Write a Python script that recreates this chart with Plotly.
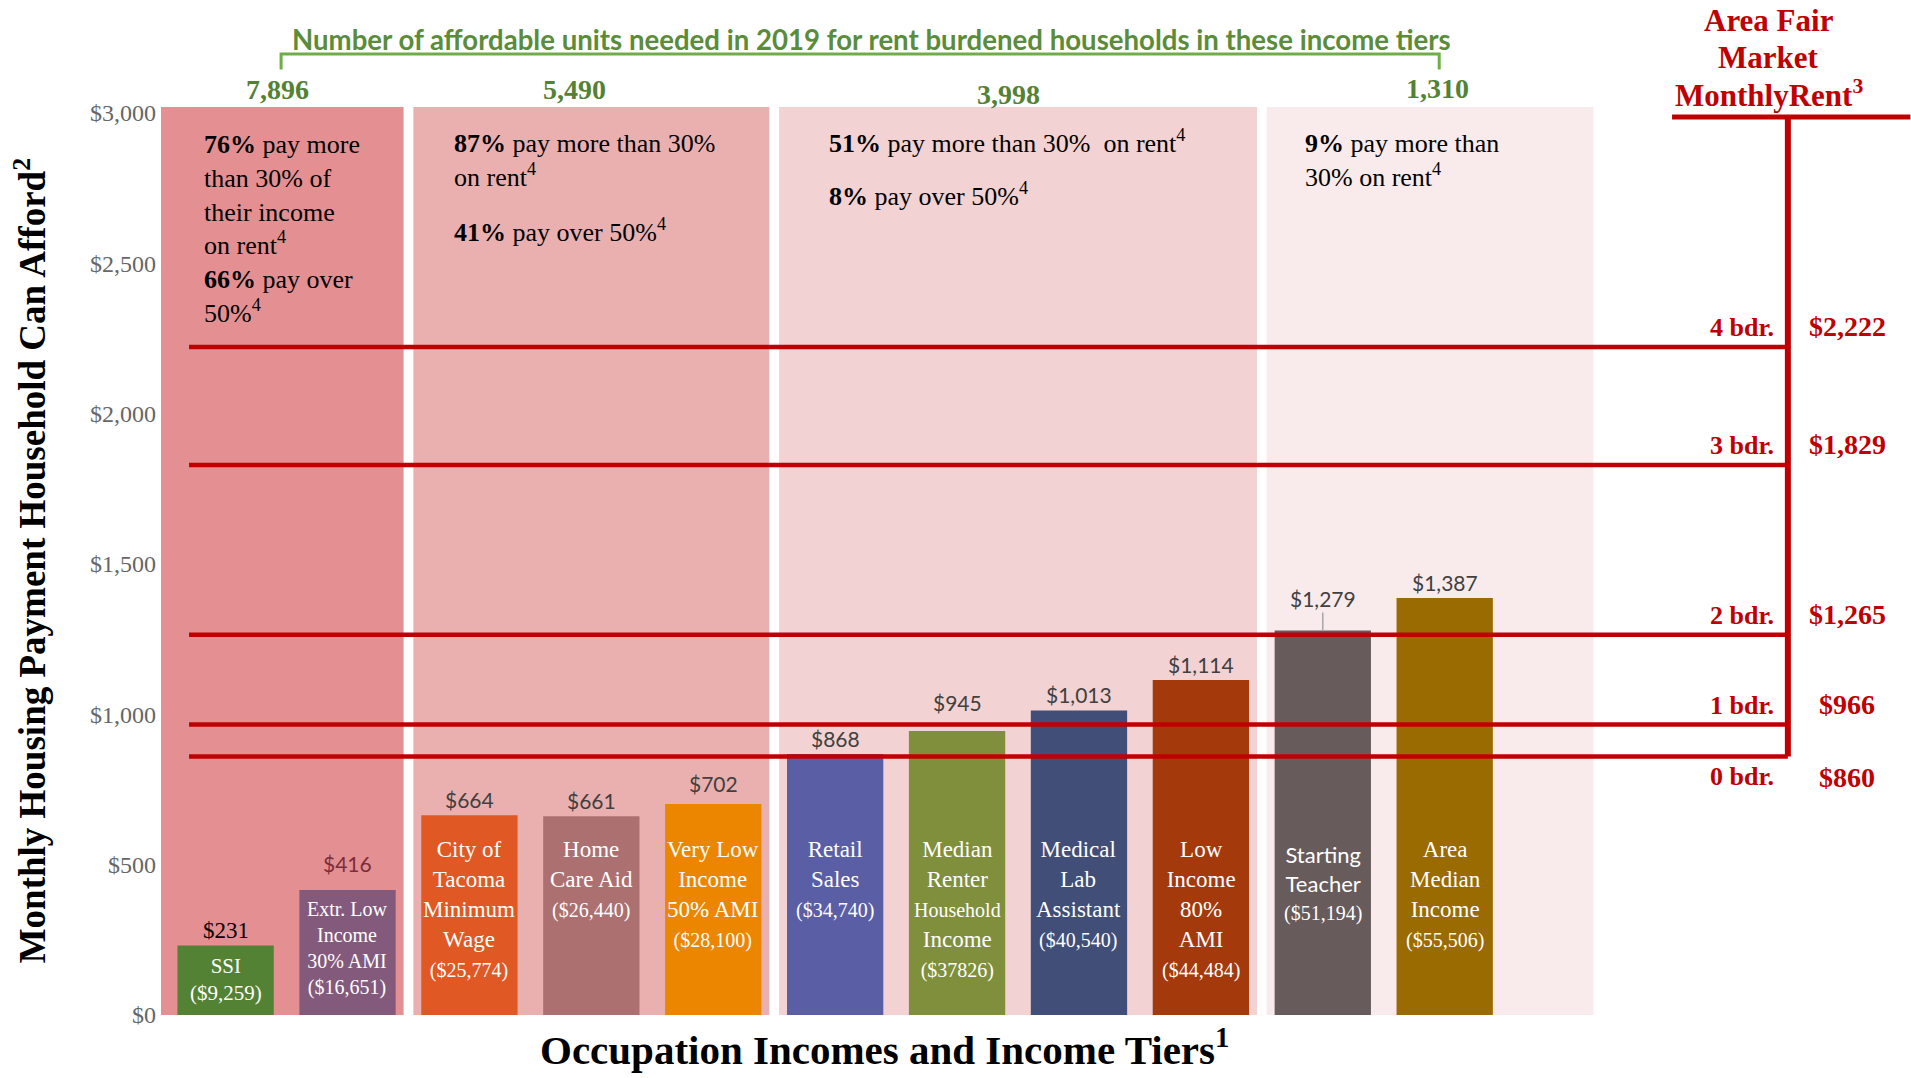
import plotly.graph_objects as go

# ---------------- data ----------------
bar_names = ["SSI", "Extr. Low<br>Income<br>30% AMI", "City of<br>Tacoma<br>Minimum<br>Wage",
             "Home<br>Care Aid", "Very Low<br>Income<br>50% AMI", "Retail<br>Sales",
             "Median<br>Renter<br><span style='font-size:20px'>Household</span><br>Income",
             "Medical<br>Lab<br>Assistant", "Low<br>Income<br>80%<br>AMI",
             "Starting<br>Teacher", "Area<br>Median<br>Income"]
incomes = ["($9,259)", "($16,651)", "($25,774)", "($26,440)", "($28,100)", "($34,740)",
           "($37826)", "($40,540)", "($44,484)", "($51,194)", "($55,506)"]
afford = [231, 416, 664, 661, 702, 868, 945, 1013, 1114, 1279, 1387]
bar_colors = ["#548235", "#845A7C", "#E05824", "#AC7070", "#EC8600", "#5A5EA4",
              "#7F8F3C", "#414E78", "#A4390C", "#675B5B", "#9A6B00"]

tier_sizes = [2, 3, 4, 2]
tier_units = ["7,896", "5,490", "3,998", "1,310"]
tier_colors = ["#E49093", "#EAB0B0", "#F2D2D2", "#F9EBEB"]

fmr_rooms = ["0 bdr.", "1 bdr.", "2 bdr.", "3 bdr.", "4 bdr."]
fmr_values = [860, 966, 1265, 1829, 2222]

y_ticks = [0, 500, 1000, 1500, 2000, 2500, 3000]

# ---------------- styling constants ----------------
RED = "#C00000"
GREEN = "#548235"
GREEN_LINE = "#70AD47"
SERIF = "Liberation Serif, Times New Roman, serif"
SANS = "Lato, Carlito, Calibri, sans-serif"

x_idx = list(range(len(afford)))

fig = go.Figure()
fig.add_trace(go.Bar(x=x_idx, y=afford, width=0.79, marker=dict(color=bar_colors, line=dict(width=0)),
                     hoverinfo="skip", showlegend=False))

shapes = []
annotations = []

# background tier panels
edges = [-0.53]
c = 0
for s in tier_sizes:
    c += s
    edges.append(c - 0.5)
gap = 0.04
panel_top = 3020
for k, s in enumerate(tier_sizes):
    x0 = edges[k] + (gap if k > 0 else 0)
    x1 = edges[k + 1] - gap if k < len(tier_sizes) - 1 else edges[k + 1] + 0.72
    shapes.append(dict(type="rect", xref="x", yref="y", x0=x0, x1=x1, y0=0, y1=panel_top,
                       fillcolor=tier_colors[k], line=dict(width=0), layer="below"))

# tier unit numbers
unit_x = [0.425, 2.865, 6.425, 9.945]
unit_y = [3077, 3077, 3062, 3080]
for k, t in enumerate(tier_units):
    annotations.append(dict(x=unit_x[k], y=unit_y[k], xref="x", yref="y", text="<b>%s</b>" % t,
                            showarrow=False, font=dict(family=SERIF, size=28, color=GREEN)))

# header + bracket
annotations.append(dict(x=5.3, y=3243, xref="x", yref="y",
                        text="<b>Number of affordable units needed in 2019 for rent burdened households in these income tiers</b>",
                        showarrow=False, font=dict(family=SANS, size=27.6, color="#5A8C3A")))
shapes.append(dict(type="path", xref="x", yref="y",
                   path="M 0.455,3145 L 0.455,3196 L 9.955,3196 L 9.955,3145",
                   line=dict(color=GREEN_LINE, width=3)))

# tier texts
tier_texts = [
    (-0.195, 2950, "<b>76%</b> pay more<br>than 30% of<br>their income<br>on rent<sup>4</sup><br><b>66%</b> pay over<br>50%<sup>4</sup>"),
    (1.855, 2955, "<b>87%</b> pay more than 30%<br>on rent<sup>4</sup>"),
    (1.855, 2672, "<b>41%</b> pay over 50%<sup>4</sup>"),
    (4.935, 2968, "<b>51%</b> pay more than 30%  on rent<sup>4</sup>"),
    (4.935, 2790, "<b>8%</b> pay over 50%<sup>4</sup>"),
    (8.835, 2955, "<b>9%</b> pay more than<br>30% on rent<sup>4</sup>"),
]
for tx, ty, tt in tier_texts:
    annotations.append(dict(x=tx, y=ty, xref="x", yref="y", text=tt, showarrow=False,
                            xanchor="left", yanchor="top", align="left",
                            font=dict(family=SERIF, size=26, color="black")))

# bar value labels (raised a little where the original nudged them)
label_lift = {1: 11, 4: 5, 6: 13}
for i, v in enumerate(afford):
    lab = "${:,}".format(v)
    lift = 1 + label_lift.get(i, 0)
    if i == 0:
        annotations.append(dict(x=i, y=v, xref="x", yref="y", text=lab, showarrow=False,
                                yanchor="bottom", yshift=lift, font=dict(family=SERIF, size=23, color="black")))
    elif v == 1279:
        annotations.append(dict(x=i, y=v, xref="x", yref="y", text=lab, showarrow=True,
                                ax=0, ay=-32, arrowhead=0, arrowwidth=1.5, arrowcolor="#A6A6A6",
                                font=dict(family=SANS, size=21, color="#404040")))
    else:
        col = "#7B2E3A" if i == 1 else "#404040"
        annotations.append(dict(x=i, y=v, xref="x", yref="y", text=lab, showarrow=False,
                                yanchor="bottom", yshift=lift, font=dict(family=SANS, size=21, color=col)))

# text inside bars
for i, v in enumerate(afford):
    size = 23
    if i == 0:
        size = 21
    elif i == 1:
        size = 20
    name = bar_names[i]
    top = min(v - 20, 600)
    if "Starting" in name:
        name = "<span style='font-family:Lato'>%s</span>" % name
        size = 22
        top = 585
    txt = "%s<br><span style='font-size:%dpx'>%s</span>" % (name, 20 if i > 1 else size, incomes[i])
    annotations.append(dict(x=i, y=top, xref="x", yref="y", text=txt, showarrow=False,
                            yanchor="top", align="center", font=dict(family=SERIF, size=size, color="white")))

# fair market rent lines
line_x0 = -0.3
bracket_x = 12.815
bracket_top = 2987
for r, v in zip(fmr_rooms, fmr_values):
    shapes.append(dict(type="line", xref="x", yref="y", x0=line_x0, x1=bracket_x, y0=v, y1=v,
                       line=dict(color=RED, width=4.5), layer="above"))
    below = v == min(fmr_values)
    annotations.append(dict(x=12.72, y=v, xref="x", yref="y", text="<b>%s</b>" % r, showarrow=False,
                            xanchor="right", yanchor="top" if below else "bottom",
                            yshift=-4 if below else 3,
                            font=dict(family=SERIF, size=26, color=RED)))
    annotations.append(dict(x=13.3, y=v, xref="x", yref="y", text="<b>${:,}</b>".format(v), showarrow=False,
                            xanchor="center", yanchor="top" if below else "bottom",
                            yshift=-4 if below else 3,
                            font=dict(family=SERIF, size=28, color=RED)))
shapes.append(dict(type="line", xref="x", yref="y", x0=bracket_x, x1=bracket_x, y0=min(fmr_values),
                   y1=bracket_top, line=dict(color=RED, width=6), layer="above"))
shapes.append(dict(type="line", xref="x", yref="y", x0=11.865, x1=13.82, y0=bracket_top, y1=bracket_top,
                   line=dict(color=RED, width=5), layer="above"))
fmr_title = ["<b>Area Fair</b>", "<b>Market</b>", "<b>MonthlyRent<sup>3</sup></b>"]
fmr_title_y = [3307, 3186, 3064]
for t, ty in zip(fmr_title, fmr_title_y):
    annotations.append(dict(x=12.66, y=ty, xref="x", yref="y", text=t, showarrow=False,
                            align="center", font=dict(family=SERIF, size=31, color=RED)))

# axis titles
annotations.append(dict(x=-0.0749, y=1512, xref="paper", yref="y", textangle=-90,
                        xanchor="center", yanchor="middle",
                        text="<b>Monthly Housing Payment Household Can Afford<sup>2</sup></b>",
                        showarrow=False, font=dict(family=SERIF, size=37, color="black")))
annotations.append(dict(x=0.4137, y=-0.032, xref="paper", yref="paper",
                        xanchor="center", yanchor="middle",
                        text="<b>Occupation Incomes and Income Tiers<sup>1</sup></b>",
                        showarrow=False, font=dict(family=SERIF, size=41, color="black")))

fig.update_layout(
    width=1911, height=1078, autosize=False,
    margin=dict(l=161, r=0, t=0, b=63),
    paper_bgcolor="white", plot_bgcolor="white",
    shapes=shapes, annotations=annotations,
    bargap=0.2,
    xaxis=dict(range=[-0.53, 13.825], showticklabels=False, showgrid=False, zeroline=False,
               showline=False, ticks="", fixedrange=True),
    yaxis=dict(range=[0, 3376], tickvals=y_ticks, ticktext=["${:,}".format(t) for t in y_ticks],
               showgrid=False, zeroline=False, showline=False, ticks="",
               tickfont=dict(family=SERIF, size=24, color="#666666"), ticklabelstandoff=4,
               fixedrange=True),
    font=dict(family=SERIF),
)

fig.write_html("out.html", config={"displayModeBar": False},
               post_script="document.body.style.margin='0';document.body.style.overflow='hidden';")
